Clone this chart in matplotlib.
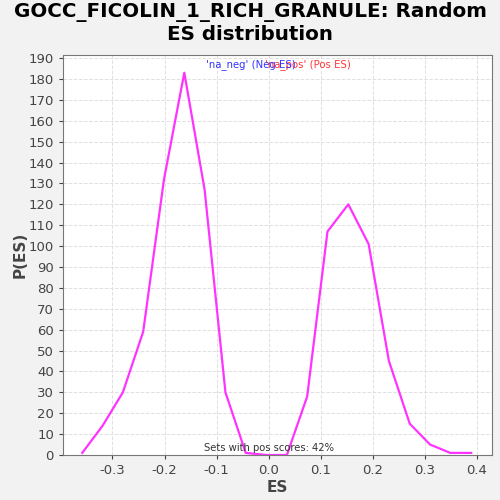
import matplotlib
matplotlib.use("Agg")
import matplotlib.pyplot as plt
import numpy as np

es = [-0.358, -0.319, -0.280, -0.241, -0.201, -0.162, -0.123, -0.083, -0.044, -0.005,
      0.035, 0.074, 0.113, 0.153, 0.192, 0.231, 0.271, 0.310, 0.349, 0.389]
pes = [1, 14, 30, 59, 132, 183, 127, 30, 1, 0,
       0, 28, 107, 120, 101, 45, 15, 5, 1, 1]
xticks = [-0.3, -0.2, -0.1, 0.0, 0.1, 0.2, 0.3, 0.4]
yticks = list(range(0, 200, 10))

fig = plt.figure(figsize=(5, 5), dpi=100, facecolor="#f2f2f2")
ax = fig.add_axes([0.126, 0.09, 0.858, 0.80])
ax.set_facecolor("white")
ax.plot(es, pes, color="#ff33ff", lw=1.6)
ax.set_xlim(-0.395, 0.429)
ax.set_ylim(0, 191.5)
ax.set_xticks(xticks)
ax.set_xticklabels([f"{t:.1f}" for t in xticks])
ax.set_yticks(yticks)
ax.tick_params(labelsize=9.5, colors="#444444", length=3)
ax.grid(True, color="#e0e0e0", ls="--", lw=0.7)
for s in ax.spines.values():
    s.set_color("#777777")
ax.set_xlabel("ES", fontsize=11, fontweight="bold", color="#444444", labelpad=2)
ax.set_ylabel("P(ES)", fontsize=11, fontweight="bold", color="#444444", labelpad=1)
fig.suptitle("GOCC_FICOLIN_1_RICH_GRANULE: Random\nES distribution", fontsize=14.3,
             fontweight="bold", y=0.997, va="top")
fig.text(0.53, 0.87, "'na_pos' (Pos ES)", color="#ff3333", fontsize=7.3, va="center", zorder=1)
fig.text(0.412, 0.87, "'na_neg' (Neg ES)", color="#3333ff", fontsize=7.3, va="center", zorder=2)
ax.text(0.0, 1.0, "Sets with pos scores: 42%", fontsize=7.2, color="#333333", ha="center", va="bottom")
fig.savefig("out.png", dpi=100, facecolor=fig.get_facecolor())
